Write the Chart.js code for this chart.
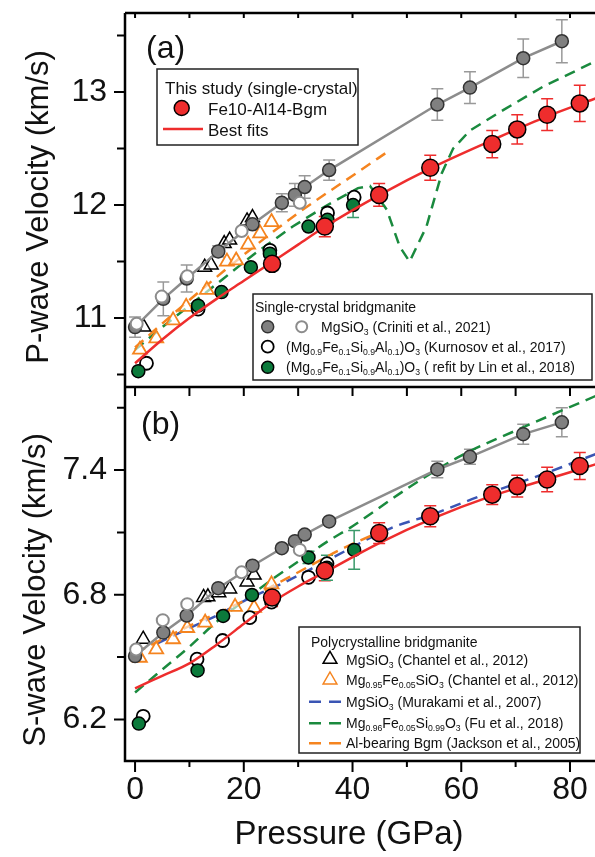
<!DOCTYPE html>
<html>
<head>
<meta charset="utf-8">
<script src="https://cdn.jsdelivr.net/npm/chart.js@4.4.1/dist/chart.umd.min.js"></script>
<style>
  html, body { margin: 0; padding: 0; background: #fff; }
  #wrap { position: relative; width: 595px; height: 857px; overflow: hidden;
          font-family: 'Liberation Sans', Arial, sans-serif; color: #111; }
  #chart, #overlay { position: absolute; left: 0; top: 0; }
  .t { position: absolute; white-space: nowrap; line-height: 1; transform: translateY(-50%); }
  .t sub { font-size: 0.62em; vertical-align: -0.32em; line-height: 0; }
  .l2 { font-size: 14px; }
  .l1 { font-size: 17px; }
  .big { font-size: 32px; }
  .ytitle { position: absolute; white-space: nowrap; line-height: 1; font-size: 31px;
            transform: translate(-50%, -50%) rotate(-90deg); }
</style>
</head>
<body>
<div id="wrap">
  <canvas id="chart" width="595" height="857"></canvas>
  <svg id="overlay" width="595" height="857">
    <!-- legend (a) this study -->
    <rect x="157" y="69" width="201" height="76" fill="#fff" stroke="#222" stroke-width="1.5"/>
    <circle cx="181.7" cy="108" r="7.5" fill="#ee2d2d" stroke="#000" stroke-width="1.5"/>
    <line x1="163" y1="129" x2="203" y2="129" stroke="#ee2d2d" stroke-width="2.5"/>
    <!-- legend (a) single crystal -->
    <rect x="253" y="294" width="339" height="86" fill="#fff" stroke="#222" stroke-width="1.5"/>
    <circle cx="267.7" cy="326.7" r="6" fill="#808080" stroke="#333" stroke-width="1.5"/>
    <circle cx="301.7" cy="326.7" r="5.5" fill="#fff" stroke="#8c8c8c" stroke-width="2"/>
    <circle cx="267.7" cy="346.7" r="6" fill="#fff" stroke="#000" stroke-width="1.8"/>
    <circle cx="267.7" cy="367.3" r="6" fill="#0b7a3b" stroke="#000" stroke-width="1.5"/>
    <!-- legend (b) polycrystalline -->
    <rect x="299" y="627" width="281" height="126" fill="#fff" stroke="#222" stroke-width="1.5"/>
    <polygon points="330,651.3 336.9,663.3 323.1,663.3" fill="#fff" stroke="#000" stroke-width="1.5"/>
    <polygon points="330,672 336.9,684 323.1,684" fill="#fff" stroke="#f5841f" stroke-width="1.5"/>
    <line x1="309" y1="701.7" x2="342" y2="701.7" stroke="#3a55b4" stroke-width="2.5" stroke-dasharray="12 8"/>
    <line x1="309" y1="723.3" x2="342" y2="723.3" stroke="#1a8a3e" stroke-width="2.5" stroke-dasharray="12 8"/>
    <line x1="309" y1="743.3" x2="342" y2="743.3" stroke="#f5841f" stroke-width="2.5" stroke-dasharray="12 8"/>
  </svg>

  <div class="t big" style="left:146px; top:47px;">(a)</div>
  <div class="t big" style="left:141px; top:423px;">(b)</div>

  <div class="t l1" style="left:165px; top:88px;">This study (single-crystal)</div>
  <div class="t l1" style="left:208px; top:109px;">Fe10-Al14-Bgm</div>
  <div class="t l1" style="left:208px; top:130px;">Best fits</div>

  <div class="t l2" style="left:255px; top:307px;">Single-crystal bridgmanite</div>
  <div class="t l2" style="left:321px; top:327px;">MgSiO<sub>3</sub> (Criniti et al., 2021)</div>
  <div class="t l2" style="left:286px; top:347px;">(Mg<sub>0.9</sub>Fe<sub>0.1</sub>Si<sub>0.9</sub>Al<sub>0.1</sub>)O<sub>3</sub> (Kurnosov et al., 2017)</div>
  <div class="t l2" style="left:286px; top:367px;">(Mg<sub>0.9</sub>Fe<sub>0.1</sub>Si<sub>0.9</sub>Al<sub>0.1</sub>)O<sub>3</sub> ( refit by Lin et al., 2018)</div>

  <div class="t l2" style="left:311px; top:642px;">Polycrystalline bridgmanite</div>
  <div class="t l2" style="left:346px; top:660px;">MgSiO<sub>3</sub> (Chantel et al., 2012)</div>
  <div class="t l2" style="left:346px; top:680px;">Mg<sub>0.95</sub>Fe<sub>0.05</sub>SiO<sub>3</sub> (Chantel et al., 2012)</div>
  <div class="t l2" style="left:346px; top:702px;">MgSiO<sub>3</sub> (Murakami et al., 2007)</div>
  <div class="t l2" style="left:346px; top:723px;">Mg<sub>0.96</sub>Fe<sub>0.05</sub>Si<sub>0.99</sub>O<sub>3</sub> (Fu et al., 2018)</div>
  <div class="t l2" style="left:346px; top:743px;">Al-bearing Bgm (Jackson et al., 2005)</div>

  <div class="ytitle" style="left:37px; top:207px;">P-wave Velocity (km/s)</div>
  <div class="ytitle" style="left:34px; top:590px;">S-wave Velocity (km/s)</div>
  <div class="t" style="left:349px; top:832px; font-size:33px; transform:translate(-50%,-50%);">Pressure (GPa)</div>
</div>

<script>
const FONT = "'Liberation Sans', Arial, sans-serif";

// axes
const X_MIN = -1.85, X_MAX = 84.6;
const xTicks = [0, 20, 40, 60, 80];
const xMinor = [10, 30, 50, 70];
const vpTicks = [11, 12, 13];
const vpMinor = [10.5, 11.5, 12.5, 13.5];
const vsTicks = [6.2, 6.8, 7.4];
const vsMinor = [6.5, 7.1, 7.7];

// ---- (a) P-wave ----
// this study, Fe10-Al14-Bgm
const pThis = [25.2, 34.9, 44.9, 54.3, 65.7, 70.3, 75.8, 81.8];
const vpThis = [11.48, 11.81, 12.09, 12.33, 12.54, 12.67, 12.80, 12.90];
const vpThisErr = [0.06, 0.09, 0.10, 0.11, 0.12, 0.13, 0.14, 0.16];
const pFit = [0, 5, 10, 15, 20, 25, 30, 35, 45, 55, 65, 75, 85];
const vpFit = [10.60, 10.81, 11.00, 11.17, 11.33, 11.49, 11.65, 11.81, 12.09, 12.34, 12.56, 12.77, 12.95];
// Criniti et al., 2021
const pCrin = [0, 5.2, 9.5, 15.3, 21.6, 27.0, 29.4, 31.2, 35.7, 55.6, 61.6, 71.4, 78.5];
const vpCrin = [10.92, 11.17, 11.35, 11.59, 11.83, 12.02, 12.09, 12.16, 12.31, 12.89, 13.04, 13.30, 13.45];
const vpCrinErr = [0.09, 0.15, 0.12, 0.05, 0.05, 0.08, 0.10, 0.10, 0.09, 0.14, 0.14, 0.17, 0.19];
const pCrinOpen = [0.3, 4.9, 9.6, 19.6, 30.3];
const vpCrinOpen = [10.95, 11.19, 11.37, 11.77, 12.02];
// Kurnosov et al., 2017
const pKurA = [2.1, 11.6, 24.8, 35.4, 40.3];
const vpKur = [10.60, 11.08, 11.60, 11.93, 12.07];
// refit by Lin et al., 2018
const pLinA = [0.6, 11.6, 15.9, 21.3, 24.8, 31.9, 35.4, 40.1];
const vpLin = [10.53, 11.11, 11.23, 11.45, 11.57, 11.81, 11.87, 12.00];
const vpLinErr = [0, 0, 0, 0, 0, 0, 0.05, 0.11];
// Chantel et al., 2012
const pChMgA = [1.6, 12.8, 14.0, 16.4, 17.4, 20.6, 21.6];
const vpChMg = [10.92, 11.45, 11.47, 11.66, 11.69, 11.86, 11.89];
const pChFeA = [0.9, 3.9, 7.0, 9.4, 13.2, 16.9, 18.6, 20.8, 23.0, 25.1];
const vpChFe = [10.72, 10.82, 10.98, 11.10, 11.25, 11.50, 11.51, 11.65, 11.75, 11.85];
// Jackson et al., 2005
const pJackA = [0, 10, 20, 30, 40, 47];
const vpJack = [10.74, 11.16, 11.56, 11.93, 12.26, 12.49];
// Fu et al., 2018
const pFuA = [0, 5, 10, 16, 22, 29, 35, 41, 43.2, 46.3, 48.7, 50.5, 53.6, 56.4, 58.5, 61.6, 67.7, 75.1, 85];
const vpFu = [10.72, 10.92, 11.11, 11.34, 11.57, 11.81, 11.99, 12.15, 12.17, 11.96, 11.63, 11.50, 11.81, 12.28, 12.50, 12.66, 12.84, 13.05, 13.28];

// ---- (b) S-wave ----
const vsThis = [6.787, 6.916, 7.097, 7.178, 7.282, 7.323, 7.355, 7.420];
const vsThisErr = [0.044, 0.048, 0.05, 0.05, 0.048, 0.052, 0.059, 0.065];
const vsFit = [6.35, 6.41, 6.47, 6.56, 6.66, 6.76, 6.84, 6.91, 7.05, 7.17, 7.27, 7.35, 7.43];
const vsCrin = [6.505, 6.618, 6.70, 6.832, 6.94, 7.024, 7.058, 7.09, 7.153, 7.403, 7.464, 7.573, 7.63];
const vsCrinErr = [0.01, 0.01, 0.01, 0.01, 0.01, 0.01, 0.01, 0.01, 0.015, 0.04, 0.036, 0.048, 0.07];
const pCrinOpenB = [0.2, 5.1, 9.6, 19.6, 30.3];
const vsCrinOpen = [6.537, 6.678, 6.755, 6.908, 7.016];
const pKurB = [1.5, 11.4, 16.1, 21.1, 25.1, 31.9, 35.3];
const vsKur = [6.215, 6.49, 6.58, 6.69, 6.765, 6.884, 6.95];
const pLinB = [0.7, 11.5, 16.2, 21.5, 31.9, 35.3, 40.3];
const vsLin = [6.18, 6.436, 6.698, 6.799, 6.98, 6.93, 7.016];
const vsLinErr = [0, 0, 0, 0, 0.03, 0.06, 0.093];
const pChMgB = [1.5, 12.6, 13.4, 15.4, 17.4, 20.6, 21.9];
const vsChMg = [6.586, 6.787, 6.79, 6.81, 6.828, 6.862, 6.895];
const pChFeB = [0.9, 3.9, 7.0, 9.6, 12.9, 18.4, 21.9, 25.1];
const vsChFe = [6.497, 6.537, 6.586, 6.64, 6.666, 6.742, 6.737, 6.85];
const pMura = [4, 10, 15, 20, 27.5, 35, 47, 55, 63, 75, 85];
const vsMura = [6.565, 6.64, 6.70, 6.77, 6.86, 6.96, 7.12, 7.19, 7.27, 7.38, 7.48];
const pFuB = [0, 5, 10, 15, 20, 25, 30, 35, 40, 50, 60, 70, 85];
const vsFu = [6.33, 6.44, 6.55, 6.67, 6.77, 6.87, 6.96, 7.05, 7.13, 7.31, 7.47, 7.59, 7.76];
const pJackB = [0, 10, 20, 28, 38, 47];
const vsJack = [6.52, 6.65, 6.77, 6.88, 7.02, 7.125];

const RED = '#ee2d2d', GRAY = '#808080', GREEN = '#0b7a3b', ORANGE = '#f5841f',
      BLUE = '#3a55b4', FUGREEN = '#1a8a3e';

const pts = (xs, ys) => xs.map((x, i) => ({ x: x, y: ys[i] }));

function marks(xs, ys, axis, r, fill, stroke, bw, style) {
    return Object.assign({
        data: pts(xs, ys), yAxisID: axis, showLine: false,
        pointRadius: r, pointBackgroundColor: fill, pointBorderColor: stroke, pointBorderWidth: bw
    }, style || {});
}

function curve(xs, ys, axis, color, dashed, smooth) {
    return {
        data: pts(xs, ys), yAxisID: axis, showLine: true, pointRadius: 0,
        borderColor: color, borderWidth: 2.5, borderDash: dashed ? [11, 7] : [],
        cubicInterpolationMode: smooth ? 'monotone' : 'default', tension: 0
    };
}

const grayLine = { borderColor: '#8c8c8c', borderWidth: 2.5, showLine: true };
const tri = { pointStyle: 'triangle' };

// first dataset is drawn on top
const datasets = [
    marks(pThis, vpThis, 'yP', 8.5, RED, '#000', 1.5, { errorBars: vpThisErr, errorColor: RED }),
    marks(pThis, vsThis, 'yS', 8.5, RED, '#000', 1.5, { errorBars: vsThisErr, errorColor: RED }),
    curve(pFit, vpFit, 'yP', RED, false, true),
    curve(pFit, vsFit, 'yS', RED, false, true),
    marks(pCrinOpen, vpCrinOpen, 'yP', 6, '#fff', '#8c8c8c', 2),
    marks(pCrinOpenB, vsCrinOpen, 'yS', 6, '#fff', '#8c8c8c', 2),
    marks(pCrin, vpCrin, 'yP', 6.5, GRAY, '#333', 1.5, Object.assign({ errorBars: vpCrinErr, errorColor: '#999' }, grayLine)),
    marks(pCrin, vsCrin, 'yS', 6.5, GRAY, '#333', 1.5, Object.assign({ errorBars: vsCrinErr, errorColor: '#999' }, grayLine)),
    marks(pLinA, vpLin, 'yP', 6.5, GREEN, '#000', 1.5, { errorBars: vpLinErr, errorColor: '#3a9a6a' }),
    marks(pLinB, vsLin, 'yS', 6.5, GREEN, '#000', 1.5, { errorBars: vsLinErr, errorColor: '#3a9a6a' }),
    marks(pKurA, vpKur, 'yP', 6.5, '#fff', '#000', 1.8),
    marks(pKurB, vsKur, 'yS', 6.5, '#fff', '#000', 1.8),
    marks(pChMgA, vpChMg, 'yP', 8, 'rgba(255,255,255,0.6)', '#000', 1.5, tri),
    marks(pChMgB, vsChMg, 'yS', 8, 'rgba(255,255,255,0.6)', '#000', 1.5, tri),
    marks(pChFeA, vpChFe, 'yP', 8, 'rgba(255,255,255,0.6)', ORANGE, 1.8, tri),
    marks(pChFeB, vsChFe, 'yS', 8, 'rgba(255,255,255,0.6)', ORANGE, 1.8, tri),
    curve(pJackA, vpJack, 'yP', ORANGE, true, true),
    curve(pJackB, vsJack, 'yS', ORANGE, true, true),
    curve(pMura, vsMura, 'yS', BLUE, true, true),
    curve(pFuA, vpFu, 'yP', FUGREEN, true, false),
    curve(pFuB, vsFu, 'yS', FUGREEN, true, true)
];

const errorBarPlugin = {
    id: 'errorBars',
    beforeDatasetsDraw(chart) {
        const ctx = chart.ctx;
        const xs = chart.scales.x;
        ctx.save();
        ctx.lineWidth = 1.5;
        chart.data.datasets.forEach(ds => {
            if (!ds.errorBars) return;
            const ys = chart.scales[ds.yAxisID];
            ctx.strokeStyle = ds.errorColor;
            ds.data.forEach((p, i) => {
                const e = ds.errorBars[i];
                if (!e) return;
                const x = xs.getPixelForValue(p.x);
                const y1 = ys.getPixelForValue(p.y + e);
                const y2 = ys.getPixelForValue(p.y - e);
                ctx.beginPath();
                ctx.moveTo(x, y1); ctx.lineTo(x, y2);
                ctx.moveTo(x - 6, y1); ctx.lineTo(x + 6, y1);
                ctx.moveTo(x - 6, y2); ctx.lineTo(x + 6, y2);
                ctx.stroke();
            });
        });
        ctx.restore();
    }
};

const framePlugin = {
    id: 'frame',
    afterDatasetsDraw(chart) {
        const { ctx, chartArea: a } = chart;
        const { x, yP, yS } = chart.scales;
        ctx.save();
        ctx.strokeStyle = '#000';
        ctx.lineWidth = 2.5;
        ctx.beginPath();
        ctx.moveTo(a.left, a.top); ctx.lineTo(a.left, a.bottom); ctx.lineTo(a.right + 3, a.bottom);
        ctx.moveTo(a.left, a.top); ctx.lineTo(a.right + 3, a.top);
        ctx.moveTo(a.left, yP.bottom); ctx.lineTo(a.right + 3, yP.bottom);
        ctx.stroke();

        ctx.lineWidth = 2;
        ctx.beginPath();
        const leftTicks = (scale, vals, len) => vals.forEach(v => {
            const y = scale.getPixelForValue(v);
            ctx.moveTo(a.left - len, y); ctx.lineTo(a.left, y);
        });
        const downTicks = (y0, vals, len) => vals.forEach(v => {
            const px = x.getPixelForValue(v);
            ctx.moveTo(px, y0); ctx.lineTo(px, y0 + len);
        });
        leftTicks(yP, vpTicks, 11);
        leftTicks(yP, vpMinor, 8);
        leftTicks(yS, vsTicks, 11);
        leftTicks(yS, vsMinor, 8);
        downTicks(a.bottom, xTicks, 11);
        downTicks(a.bottom, xMinor, 6);
        downTicks(yP.bottom, xTicks.concat(xMinor), 9);
        downTicks(a.top, xTicks.concat(xMinor), 5);
        ctx.stroke();
        ctx.restore();
    }
};

// keep the plot frame where the figure has it: no automatic label padding
function noPad(s) {
    s.paddingTop = 0; s.paddingBottom = 0; s.paddingLeft = 0; s.paddingRight = 0;
}

const yAxis = (min, max, ticks, fmt) => ({
    type: 'linear', position: 'left', stack: 'v', stackWeight: 1,
    min: min, max: max,
    grid: { display: false, drawTicks: false },
    border: { display: false },
    afterBuildTicks: s => { s.ticks = ticks.map(v => ({ value: v })); },
    afterFit: s => { s.width = 125; noPad(s); },
    ticks: { font: { family: FONT, size: 32 }, color: '#111', padding: 18, callback: fmt }
});

new Chart(document.getElementById('chart'), {
    type: 'scatter',
    data: { datasets },
    options: {
        responsive: false,
        animation: false,
        events: [],
        layout: { autoPadding: false, padding: { top: 13, right: 0, bottom: 0, left: 0 } },
        plugins: { legend: { display: false }, tooltip: { enabled: false } },
        scales: {
            x: {
                type: 'linear', min: X_MIN, max: X_MAX,
                grid: { display: false, drawTicks: false },
                border: { display: false },
                afterBuildTicks: s => { s.ticks = xTicks.map(v => ({ value: v })); },
                afterFit: s => { s.height = 96; noPad(s); },
                ticks: { font: { family: FONT, size: 32 }, color: '#111', padding: 10, maxRotation: 0, autoSkip: false }
            },
            yS: yAxis(6.0, 7.8, vsTicks, v => v.toFixed(1)),
            yP: yAxis(10.39, 13.70, vpTicks, v => String(v))
        }
    },
    plugins: [errorBarPlugin, framePlugin]
});
</script>
</body>
</html>
